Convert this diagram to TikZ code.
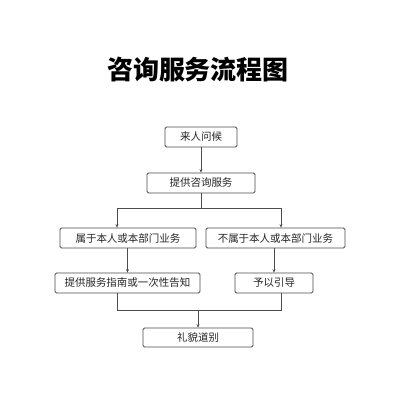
\documentclass[tikz,border=0pt]{standalone}
\usepackage{fontspec}
\setmainfont{Noto Sans CJK SC}
\usetikzlibrary{arrows.meta}
\begin{document}
\begin{tikzpicture}[x=1pt,y=-1pt,
  box/.style={draw=black!70, rounded corners=1.5pt, line width=0.8pt, inner sep=0pt,
    minimum height=20pt, font=\fontsize{10.5}{12}\selectfont, text=black!85},
  link/.style={draw=black!70, line width=0.7pt},
  arr/.style={link, -{Stealth[length=3.5pt,width=3pt]}}]
\useasboundingbox[fill=white] (0,0) rectangle (400,400);
\node[font=\fontsize{26}{28}\selectfont\bfseries] (title) at (198,70) {咨询服务流程图};
\node[box, minimum width=72pt]  (b1) at (201,137) {来人问候};
\node[box, minimum width=108pt] (b2) at (201,183) {提供咨询服务};
\node[box, minimum width=136pt] (b3) at (128,238) {属于本人或本部门业务};
\node[box, minimum width=139pt] (b4) at (275.5,238) {不属于本人或本部门业务};
\node[box, minimum width=145pt] (b5) at (127.5,283) {提供服务指南或一次性告知};
\node[box, minimum width=78pt]  (b6) at (274,283) {予以引导};
\node[box, minimum width=110pt, minimum height=19pt] (b7) at (198,337.5) {礼貌道别};
\coordinate (j1) at (201,208);
\coordinate (l1) at (117,208);
\coordinate (r1) at (281,208);
\coordinate (l2) at (117,310);
\coordinate (r2) at (281,310);
\coordinate (j2) at (198,310);
\draw[arr] (b1) -- (b2);
\draw[link] (b2) -- (j1);
\draw[link] (l1) -- (r1);
\draw[arr] (l1) -- (l1 |- b3.north);
\draw[arr] (r1) -- (r1 |- b4.north);
\draw[arr] (b5.north |- b3.south) -- (b5.north);
\draw[arr] (b6.north |- b4.south) -- (b6.north);
\draw[link] (l2 |- b5.south) -- (l2) -- (r2) -- (r2 |- b6.south);
\draw[arr] (j2) -- (b7.north);
\end{tikzpicture}
\end{document}
